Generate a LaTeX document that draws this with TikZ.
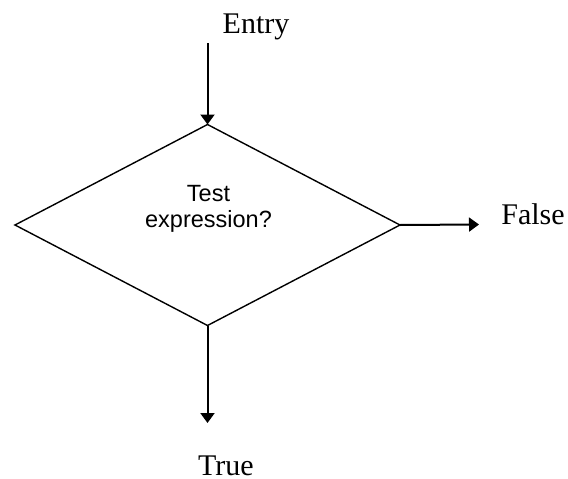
\documentclass[tikz,border=0pt]{standalone}
\usepackage{fontspec}
\setmainfont{Liberation Serif}
\newfontfamily\labelsans{Liberation Sans}
\usetikzlibrary{shapes.geometric,arrows.meta}
\begin{document}
\begin{tikzpicture}[x=1pt,y=-1pt,
  decision/.style={draw=black,line width=1.4pt,shape=diamond,minimum width=385pt,minimum height=201pt,inner sep=0pt,outer sep=0pt},
  flow/.style={draw=black,line width=2pt,-{Triangle[length=10pt,width=14pt]}},
  serifcap/.style={font=\fontsize{30}{36}\selectfont,anchor=base,inner sep=0pt},
  question/.style={font=\labelsans\fontsize{23.5}{25.5}\selectfont,align=center,inner sep=0pt}]
  \useasboundingbox (0,0) rectangle (568,479);
  % decision box and its caption
  \node[decision] (test) at (207.5,225) {};
  \node[question] (testtext) at (208.5,209) {Test\\expression?};
  % entry and exits
  \coordinate (entry) at (207.5,43);
  \coordinate (falseend) at (479,224.5);
  \coordinate (trueend) at (207.5,423);
  \draw[flow] (entry) -- (test.north);
  \draw[flow] (test.east) -- (falseend);
  \draw[flow] (test.south) -- (trueend);
  % branch labels
  \node[serifcap] (entrylabel) at (256,34) {Entry};
  \node[serifcap] (falselabel) at (533,224) {False};
  \node[serifcap] (truelabel) at (226,475) {True};
\end{tikzpicture}
\end{document}
